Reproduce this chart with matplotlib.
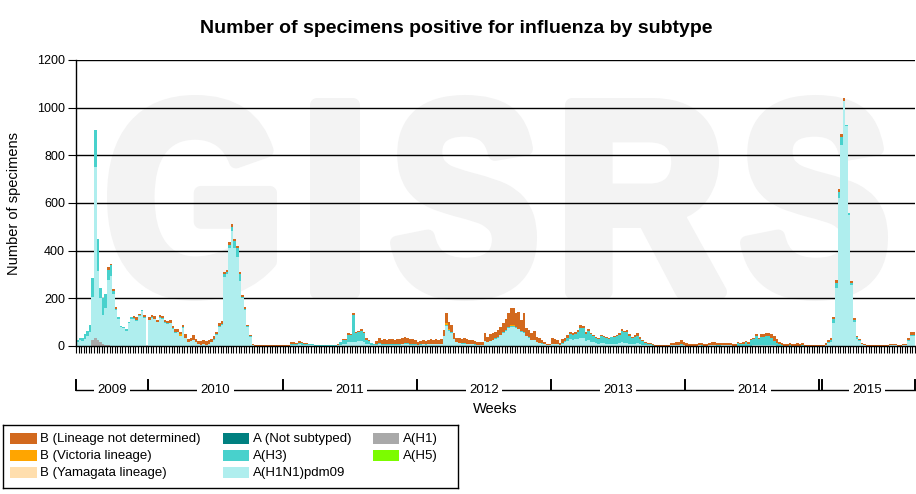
import numpy as np
import matplotlib.pyplot as plt
from matplotlib.patches import Rectangle, PathPatch
from matplotlib.textpath import TextPath
from matplotlib.font_manager import FontProperties
from matplotlib.transforms import Affine2D

plt.rcParams['font.family'] = ['Liberation Sans', 'DejaVu Sans']

# years shown under the axis and number of weekly bars in each
years = ['2009', '2010', '2011', '2012', '2013', '2014', '2015']
weeks_per_year = [28, 52, 52, 52, 52, 52, 37]

# weekly counts per subtype
pdm09 = [
    # 2009
    15, 25, 23, 30, 40, 60, 180, 715, 290, 185, 120, 155, 273, 295, 220, 152, 115, 80, 75, 65,
    95, 115, 112, 105, 125, 145, 117, 0,
    # 2010
    107, 119, 113, 100, 117, 115, 98, 93, 96, 73, 56, 60, 44, 75, 35, 18, 20, 27, 15, 8,
    6, 7, 5, 10, 18, 26, 47, 80, 88, 290, 300, 410, 483, 412, 375, 272, 200, 150, 80, 38,
    5, 2, 2, 2, 2, 2, 2, 2, 2, 2, 2, 2,
    # 2011
    1, 1, 1, 5, 5, 4, 8, 6, 4, 5, 4, 4, 2, 2, 2, 2, 2, 2, 2, 2,
    2, 3, 6, 10, 10, 15, 15, 17, 18, 20, 20, 18, 10, 8, 5, 4, 5, 8, 6, 6,
    5, 6, 6, 5, 6, 6, 7, 8, 8, 6, 6, 5,
    # 2012
    5, 6, 8, 6, 8, 8, 7, 8, 7, 9, 40, 85, 65, 55, 30, 15, 12, 10, 10, 8,
    7, 7, 6, 5, 5, 5, 20, 15, 20, 25, 30, 35, 45, 55, 65, 75, 80, 80, 75, 70,
    60, 55, 40, 35, 25, 25, 15, 12, 10, 8, 3, 4,
    # 2013
    10, 10, 10, 6, 10, 15, 20, 28, 25, 28, 30, 35, 32, 22, 25, 18, 15, 12, 10, 14,
    12, 10, 8, 10, 10, 10, 12, 15, 14, 14, 10, 8, 10, 12, 8, 6, 5, 4, 3, 2,
    2, 2, 2, 2, 2, 2, 3, 3, 5, 3, 5, 3,
    # 2014
    2, 2, 2, 2, 2, 3, 2, 2, 2, 3, 3, 3, 2, 2, 3, 3, 3, 3, 2, 2,
    2, 2, 2, 2, 2, 2, 3, 3, 3, 3, 3, 3, 3, 3, 3, 2, 2, 2, 2, 2,
    2, 2, 2, 2, 2, 2, 1, 1, 1, 1, 1, 1,
    # 2015
    2, 2, 4, 12, 18, 95, 245, 620, 845, 1030, 922, 550, 258, 100, 30, 20, 8, 4, 2, 2,
    2, 2, 2, 2, 2, 2, 2, 3, 3, 3, 2, 2, 4, 4, 20, 40, 42,
]

h3 = [
    # 2009
    10, 10, 12, 20, 25, 30, 80, 155, 135, 45, 70, 60, 40, 45, 10, 5, 5, 5, 5, 5,
    5, 5, 5, 5, 5, 5, 5, 0,
    # 2010
    3, 3, 2, 2, 3, 2, 2, 2, 2, 2, 2, 0, 0, 3, 0, 0, 0, 0, 0, 0,
    0, 0, 0, 0, 0, 2, 3, 5, 5, 10, 12, 15, 15, 30, 35, 28, 5, 5, 2, 2,
    0, 0, 0, 0, 0, 0, 0, 0, 0, 0, 0, 0,
    # 2011
    1, 1, 1, 4, 4, 4, 6, 6, 4, 4, 3, 3, 1, 1, 1, 1, 1, 1, 1, 1,
    1, 3, 10, 15, 17, 32, 30, 115, 37, 38, 45, 35, 17, 12, 6, 3, 3, 4, 3, 3,
    3, 3, 3, 3, 3, 3, 3, 3, 3, 3, 3, 3,
    # 2012
    1, 1, 1, 1, 1, 1, 1, 1, 1, 1, 2, 2, 2, 2, 1, 1, 1, 1, 1, 1,
    1, 1, 1, 1, 1, 1, 2, 2, 2, 2, 2, 2, 2, 3, 3, 3, 3, 3, 3, 3,
    3, 3, 2, 2, 2, 2, 2, 2, 1, 1, 1, 1,
    # 2013
    0, 0, 0, 0, 4, 8, 13, 22, 20, 24, 27, 41, 42, 30, 37, 31, 25, 23, 19, 28,
    26, 23, 21, 26, 28, 31, 36, 49, 44, 45, 34, 26, 27, 31, 23, 13, 8, 5, 4, 2,
    0, 0, 0, 0, 0, 0, 0, 0, 0, 2, 5, 2,
    # 2014
    0, 0, 0, 0, 0, 1, 1, 0, 0, 1, 2, 1, 1, 1, 1, 1, 1, 1, 0, 0,
    12, 5, 8, 14, 8, 22, 25, 38, 27, 35, 35, 38, 38, 32, 20, 10, 5, 2, 0, 0,
    1, 0, 0, 0, 0, 1, 0, 0, 0, 0, 0, 0,
    # 2015
    0, 0, 2, 5, 6, 20, 20, 25, 30, 0, 5, 6, 5, 8, 6, 4, 0, 0, 0, 0,
    0, 0, 0, 0, 0, 0, 0, 0, 0, 0, 0, 0, 0, 0, 5, 5, 5,
]

b_nd = [
    # 2009
    0, 0, 0, 0, 0, 0, 0, 0, 0, 0, 0, 0, 12, 5, 10, 8, 0, 0, 0, 0,
    0, 0, 8, 10, 5, 0, 8, 0,
    # 2010
    10, 8, 10, 8, 10, 8, 10, 10, 12, 10, 12, 10, 10, 12, 15, 12, 15, 18, 15, 12,
    14, 18, 15, 15, 12, 12, 10, 10, 12, 10, 8, 10, 12, 8, 10, 10, 10, 10, 8, 5,
    5, 3, 2, 4, 3, 2, 2, 3, 2, 2, 2, 1,
    # 2011
    1, 1, 1, 6, 6, 4, 6, 6, 4, 5, 3, 3, 2, 2, 1, 1, 2, 1, 1, 2,
    2, 2, 2, 3, 3, 6, 5, 5, 5, 5, 8, 7, 5, 5, 3, 3, 12, 20, 16, 19,
    17, 21, 19, 17, 21, 19, 22, 25, 24, 21, 19, 17,
    # 2012
    12, 13, 16, 15, 16, 19, 17, 19, 17, 20, 25, 42, 30, 31, 24, 19, 19, 19, 21, 19,
    17, 17, 13, 12, 12, 12, 34, 22, 28, 29, 28, 30, 34, 37, 47, 59, 70, 70, 59, 71,
    46, 79, 32, 30, 26, 37, 22, 18, 14, 9, 4, 5,
    # 2013
    22, 18, 15, 8, 14, 12, 12, 10, 8, 8, 10, 12, 10, 8, 8, 6, 5, 4, 3, 4,
    4, 3, 3, 3, 4, 4, 5, 6, 6, 8, 6, 5, 8, 10, 8, 6, 5, 5, 4, 3,
    4, 4, 3, 3, 3, 4, 8, 8, 10, 10, 15, 10,
    # 2014
    9, 6, 6, 6, 8, 10, 9, 6, 6, 10, 13, 11, 8, 8, 10, 10, 10, 10, 5, 6,
    4, 4, 5, 6, 5, 6, 7, 9, 5, 12, 12, 15, 15, 15, 17, 16, 11, 10, 6, 6,
    11, 6, 5, 9, 8, 11, 3, 3, 3, 3, 3, 3,
    # 2015
    2, 3, 5, 8, 8, 8, 12, 12, 14, 9, 0, 0, 10, 8, 4, 4, 4, 4, 3, 2,
    2, 3, 2, 2, 3, 2, 4, 5, 5, 5, 3, 3, 6, 6, 7, 12, 10,
]

# sparse subtypes: week index -> count
h1_weeks = [6, 7, 8, 9, 10, 11, 12]
h1_vals = [25, 35, 25, 15, 10, 5, 5]
b_vic_weeks = [40, 143, 144, 168, 169]
b_vic_vals = [6, 8, 5, 5, 5]

N = sum(weeks_per_year)
assert len(pdm09) == N and len(h3) == N and len(b_nd) == N


def sparse(weeks, vals):
    arr = np.zeros(N)
    arr[weeks] = vals
    return arr


h1 = sparse(h1_weeks, h1_vals)
b_vic = sparse(b_vic_weeks, b_vic_vals)
a_nst = np.zeros(N)
h5 = np.zeros(N)
b_yam = np.zeros(N)

# stacking order, bottom to top
series = [
    ('A(H1)', h1, '#A9A9A9'),
    ('A(H1N1)pdm09', np.array(pdm09, float), '#AFEEEE'),
    ('A(H3)', np.array(h3, float), '#48D1CC'),
    ('A (Not subtyped)', a_nst, '#008080'),
    ('A(H5)', h5, '#7CFC00'),
    ('B (Yamagata lineage)', b_yam, '#FFDEAD'),
    ('B (Victoria lineage)', b_vic, '#FFA500'),
    ('B (Lineage not determined)', np.array(b_nd, float), '#D2691E'),
]
colors = {name: c for name, _, c in series}
legend_cols = [
    ['B (Lineage not determined)', 'B (Victoria lineage)', 'B (Yamagata lineage)'],
    ['A (Not subtyped)', 'A(H3)', 'A(H1N1)pdm09'],
    ['A(H1)', 'A(H5)'],
]

W, H = 916, 494
fig = plt.figure(figsize=(W / 100, H / 100), dpi=100)

# watermark behind everything (letters fitted to boxes, strokes thickened)
bg = fig.add_axes([0, 0, 1, 1], zorder=-1)
bg.set_xlim(0, W)
bg.set_ylim(0, H)
bg.axis('off')
wm_font = FontProperties(family='Liberation Sans', weight='bold')
grow = 7
for ch, x0, x1, y0, y1 in [('G', 107, 277, 95, 301), ('I', 310, 360, 98, 299),
                           ('S', 390, 537, 95, 301), ('R', 565, 727, 98, 299),
                           ('S', 740, 888, 95, 301)]:
    x0, x1, y0, y1 = x0 + grow, x1 - grow, y0 + grow, y1 - grow
    tp = TextPath((0, 0), ch, size=1, prop=wm_font)
    ext = tp.get_extents()
    tr = (Affine2D().translate(-ext.x0, -ext.y0)
          .scale((x1 - x0) / ext.width, (y1 - y0) / ext.height)
          .translate(x0, H - y1))
    bg.add_patch(PathPatch(tr.transform_path(tp), facecolor='#F3F3F3',
                           edgecolor='#F3F3F3', linewidth=2 * grow * 0.72,
                           joinstyle='round'))

ax = fig.add_axes([76 / W, 1 - 346 / H, 839 / W, 286 / H])
ax.patch.set_visible(False)

x = np.arange(N)
bottom = np.zeros(N)
for name, vals, col in series:
    ax.bar(x, vals, width=1.0, bottom=bottom, color=col, linewidth=0, antialiased=False)
    bottom += vals

ax.set_xlim(-0.5, N - 0.5)
ax.set_ylim(0, 1200)
ax.set_yticks(range(0, 1201, 200))
ax.yaxis.grid(True, color='black', linewidth=1)
ax.set_axisbelow(True)
ax.set_xticks(np.arange(N + 1) - 0.5)
ax.set_xticklabels([])
ax.tick_params(axis='x', length=5, width=0.8, color='black')
ax.tick_params(axis='y', length=6, width=0.8, labelsize=9, pad=2)
for s in ['top', 'right']:
    ax.spines[s].set_visible(False)
for s in ['left', 'bottom']:
    ax.spines[s].set_linewidth(1)
    ax.spines[s].set_color('black')
fig.text(14 / W, 1 - 203 / H, 'Number of specimens', rotation=90,
         ha='center', va='center', fontsize=10.5)

# year bracket below the axis
trans = ax.get_xaxis_transform()
y_line = -(390 - 346) / 286
y_top = -(380 - 346) / 286
ax.plot([-0.5, N - 0.5], [y_line, y_line], color='black', lw=1,
        transform=trans, clip_on=False)
edges = np.concatenate([[0], np.cumsum(weeks_per_year)]) - 0.5
for e in list(edges) + [edges[-2] + 0.8]:
    ax.plot([e, e], [y_line, y_top], color='black', lw=1.4,
            transform=trans, clip_on=False)
for yr, a, b in zip(years, edges[:-1], edges[1:]):
    ax.text((a + b) / 2, y_line, yr, transform=trans, ha='center', va='center',
            fontsize=9.5, bbox=dict(facecolor='white', edgecolor='none', pad=2.5))

fig.text(495.5 / W, 1 - 409 / H, 'Weeks', ha='center', va='center', fontsize=10.5)
fig.text(456.5 / W, 1 - 33 / H, 'Number of specimens positive for influenza by subtype',
         ha='center', va='baseline', fontsize=14, fontweight='bold')

# legend box
lax = fig.add_axes([3 / W, 1 - 488 / H, 455 / W, 63 / H])
lax.set_xlim(0, 455)
lax.set_ylim(63, 0)
lax.set_xticks([])
lax.set_yticks([])
for s in lax.spines.values():
    s.set_linewidth(1)
    s.set_color('black')
col_x = [7, 219.7, 369.7]
row_y = [13.7, 30.7, 47.7]
for cx, names in zip(col_x, legend_cols):
    for ry, name in zip(row_y, names):
        lax.add_patch(Rectangle((cx, ry - 5.5), 26.6, 11, facecolor=colors[name],
                                edgecolor='none'))
        lax.text(cx + 30.5, ry, name, va='center', ha='left', fontsize=9.5)

fig.savefig('out.png', dpi=100)
